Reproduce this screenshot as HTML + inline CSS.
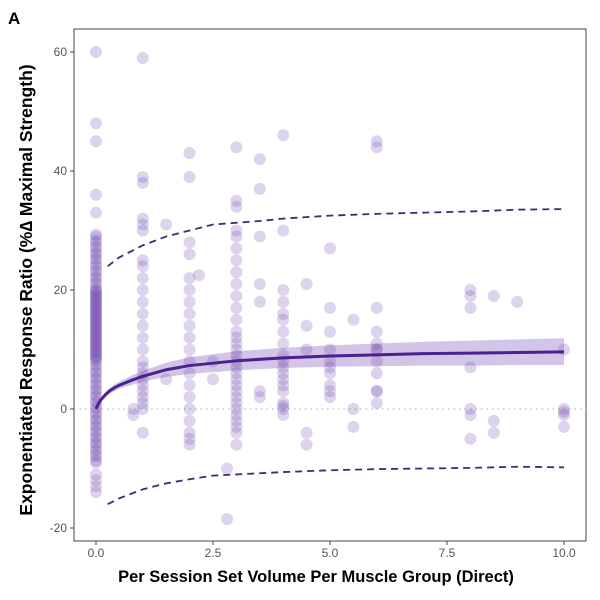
<!DOCTYPE html>
<html><head><meta charset="utf-8"><style>
body{margin:0;background:#fff;font-family:"Liberation Sans",sans-serif}
svg text{font-family:"Liberation Sans",sans-serif}
</style></head><body>
<svg id="chart" width="600" height="595" xmlns="http://www.w3.org/2000/svg">
<text x="8" y="24" font-size="17" font-weight="bold">A</text>
<rect x="74" y="29" width="512" height="512" fill="none" stroke="#444" stroke-width="1"/>
<g id="grid"></g><g id="band"></g><g id="points"></g><g id="lines"></g><g id="axes"></g>
<text x="316" y="582" font-size="16.5" font-weight="bold" text-anchor="middle">Per Session Set Volume Per Muscle Group (Direct)</text>
<text transform="translate(32,290) rotate(-90)" font-size="17.5" font-weight="bold" text-anchor="middle">Exponentiated Response Ratio (%∆ Maximal Strength)</text>
</svg>
<script>
const xTicks=[0,2.5,5,7.5,10];
const xTickLabels=["0.0","2.5","5.0","7.5","10.0"];
const yTicks=[-20,0,20,40,60];
const yTickLabels=["-20","0","20","40","60"];
const ptX0=[0,0,0,0,0,0,0,0,0,0,0,0,0,0,0,0,0,0,0,0,0,0,0,0,0,0,0,0,0,0,0,0,0,0,0,0,0,0,0,0,0,0,0,0,0,0,0,0,0,0,0,0,0,0,0,0,0,0,0,0];
const ptY0=[60,48,45,36,33,29,28,27,26,25,24,23,22,21,20,19.5,19,18,17,16,15,14,13,12,11,10,9,8,7,6,5,4,3,2,1,0,-1,-2,-3,-4,-5,-6,-7,-8,-9,-11,-12,-13,-14,18.5,17.5,16.5,15.5,14.5,13.5,12.5,11.5,10.5,9.5,8.5];
const ptX=[1,1,1,1,1,1,1,1,1,1,1,1,1,1,1,1,1,1,1,1,1,1,1,1,1,0.8,0.8,1.5,1.5,2,2,2,2,2,2,2,2,2,2,2,2,2,2,2,2,2,2,2,2,2.2,2.5,2.5,3,3,3,3,3,3,3,3,3,3,3,3,3,3,3,3,3,3,3,3,3,3,3,3,3,3,3,3,3,3,3,2.8,2.8,3.5,3.5,3.5,3.5,3.5,3.5,3.5,4,4,4,4,4,4,4,4,4,4,4,4,4,4,4,4,4,4,4,4.5,4.5,4.5,4.5,4.5,5,5,5,5,5,5,5,5,5,5,5.5,5.5,5.5,6,6,6,6,6,6,6,6,6,6,6,6,8,8,8,8,8,8,8,8.5,8.5,8.5,9,10,10,10,10,10];
const ptY=[59,39,38,32,31,30,25,24,22,20,18,16,14,12,10,8,7,6,5,4,3,2,1,0,-4,0,-1,31,5,43,39,28,26,22,20,18,16,14,12,10,8,6,4,2,0,-2,-4,-5,-6,22.5,8,5,44,35,34,30,29,27,25,23,21,19,17,15,13,12,11,10,9,8,7,6,5,4,3,2,1,0,-1,-2,-3,-4,-6,-10,-18.5,3,2,42,37,29,21,18,16,0.5,46,30,20,18,15,13,11,9,8,7,6,5,4,3,1,0,-1,-4,-6,21,14,10,7,3,27,17,13,10,8,6,4,2,0,-3,15,10,3,45,44,17,13,11,10,8,6,3,1,-1,-5,20,19,17,7,0,-2,-4,19,18,-0.5,10,0,-1,-3,-3.5,-4];
const curveX=[0,0.05,0.1,0.2,0.3,0.4,0.5,0.75,1,1.5,2,2.5,3,4,5,6,7,8,9,10];
const curveY=[0,0.9,1.5,2.4,3.1,3.6,4.0,4.8,5.5,6.6,7.3,7.7,8.1,8.6,8.9,9.1,9.3,9.4,9.5,9.6];
const bandLo=[0,0.7,1.2,2.0,2.6,3.0,3.4,4.0,4.6,5.4,5.9,6.2,6.5,6.9,7.1,7.2,7.3,7.3,7.4,7.4];
const bandHi=[0,1.1,1.8,2.8,3.6,4.2,4.6,5.6,6.4,7.8,8.7,9.2,9.7,10.3,10.7,11.0,11.3,11.5,11.7,11.9];
const dashX=[0.25,0.5,1,1.5,2,2.5,3,3.5,4,5,6,7,8,9,10];
const dashHi=[24,25.5,27.5,29,30,31,31.3,31.6,32,32.5,32.8,33,33.2,33.5,33.6];
const dashLo=[-16,-15,-13.5,-12.5,-11.8,-11.2,-11,-10.8,-10.6,-10.3,-10.1,-10,-9.9,-9.7,-9.8];
const X=v=>96+v*46.8, Y=v=>409-v*5.95;
const NS="http://www.w3.org/2000/svg";
function mk(t,a,p){const e=document.createElementNS(NS,t);for(const k in a)e.setAttribute(k,a[k]);document.getElementById(p).appendChild(e);return e;}
const z=mk('line',{x1:74,x2:586,y1:Y(0),y2:Y(0),stroke:'#aaa','stroke-dasharray':'1.5,4'},'grid');


xTicks.forEach((v,i)=>{
 const t=mk('line',{x1:X(v),x2:X(v),y1:541,y2:545,stroke:'#444'},'axes');
 
 
 const l=mk('text',{x:X(v),y:557,'font-size':12,fill:'#555','text-anchor':'middle'},'axes');l.textContent=xTickLabels[i];
 
 
});
yTicks.forEach((v,i)=>{
 const t=mk('line',{x1:70,x2:74,y1:Y(v),y2:Y(v),stroke:'#444'},'axes');
 
 
 const l=mk('text',{x:67,y:Y(v)+4,'font-size':12,fill:'#555','text-anchor':'end'},'axes');l.textContent=yTickLabels[i];
 
 
});
let bp=curveX.map((x,i)=>X(x)+','+Y(bandHi[i])).concat(curveX.map((x,i)=>X(x)+','+Y(bandLo[i])).reverse());
const b=mk('polygon',{points:bp.join(' '),fill:'rgba(125,90,185,0.35)'},'band');


function dot(x,y){const c=mk('circle',{cx:X(x),cy:Y(y),r:6,fill:'rgba(120,80,178,0.25)'},'points');
 
 }
ptX0.forEach((x,i)=>dot(x,ptY0[i]));
ptY0.forEach((y,i)=>{if(y<30&&y>-10)dot(0,y+0.3);});
ptX.forEach((x,i)=>dot(x,ptY[i]));
const c=mk('polyline',{points:curveX.map((x,i)=>X(x)+','+Y(curveY[i])).join(' '),fill:'none',stroke:'#4e1f8f','stroke-width':3,'stroke-linejoin':'round'},'lines');


const u=mk('polyline',{points:dashX.map((x,i)=>X(x)+','+Y(dashHi[i])).join(' '),fill:'none',stroke:'#3d2a7a','stroke-width':1.8,'stroke-dasharray':'7,5'},'lines');


const d=mk('polyline',{points:dashX.map((x,i)=>X(x)+','+Y(dashLo[i])).join(' '),fill:'none',stroke:'#3d2a7a','stroke-width':1.8,'stroke-dasharray':'7,5'},'lines');


</script>
</body></html>
